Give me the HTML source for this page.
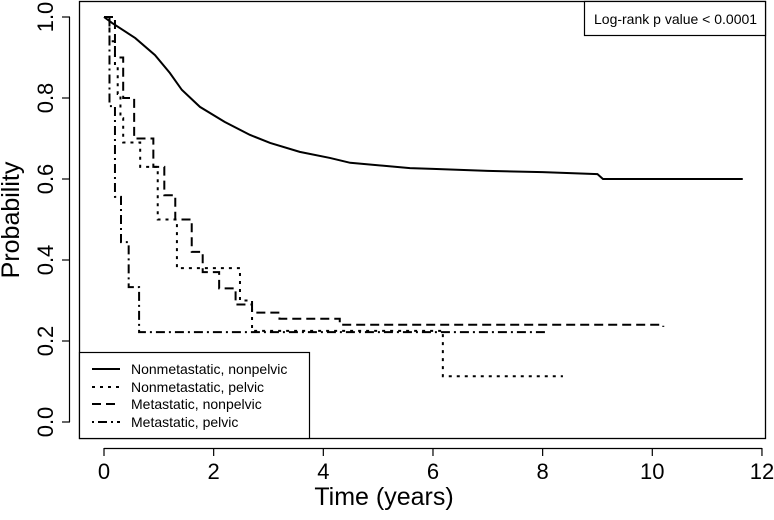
<!DOCTYPE html>
<html><head><meta charset="utf-8"><style>
body{margin:0;background:#fff}
text{font-family:"Liberation Sans",Arial,sans-serif;fill:#000}
.n{font-family:"Liberation Sans Narrow","Liberation Sans",Arial,sans-serif}
</style></head><body>
<svg id="chart" width="774" height="515" xmlns="http://www.w3.org/2000/svg">
<rect x="79.5" y="1.5" width="686" height="437" fill="none" stroke="#000" stroke-width="1.3"/>
<g id="axes"></g>
<g id="curves"></g>
<g>
<rect x="584.5" y="1.5" width="181" height="34" fill="#fff" stroke="#000" stroke-width="1.2"/>
<text x="594" y="24" font-size="14">Log-rank p value &lt; 0.0001</text>
</g>
<g>
<rect x="79.5" y="352.5" width="230" height="86" fill="#fff" stroke="#000" stroke-width="1.2"/>
<line x1="92" y1="369" x2="120" y2="369" stroke="#000" stroke-width="2"/>
<line x1="92" y1="387" x2="120" y2="387" stroke="#000" stroke-width="2" stroke-dasharray="3,5"/>
<line x1="92" y1="404" x2="120" y2="404" stroke="#000" stroke-width="2" stroke-dasharray="9,5"/>
<line x1="92" y1="422" x2="120" y2="422" stroke="#000" stroke-width="2" stroke-dasharray="2,4,9,4"/>
<text x="131" y="374" font-size="14">Nonmetastatic, nonpelvic</text>
<text x="131" y="392" font-size="14">Nonmetastatic, pelvic</text>
<text x="131" y="409" font-size="14">Metastatic, nonpelvic</text>
<text x="131" y="427" font-size="14">Metastatic, pelvic</text>
</g>
<text class="n" x="384" y="505" font-size="25" text-anchor="middle">Time (years)</text>
<text class="n" transform="translate(19,220) rotate(-90)" font-size="25" text-anchor="middle">Probability</text>
</svg>
<script>
const xTicks=[0,2,4,6,8,10,12];
const yTicks=[0.0,0.2,0.4,0.6,0.8,1.0];
const tSolid=[0,0.15,0.57,0.93,1.2,1.42,1.75,2.2,2.66,3.03,3.57,4.12,4.49,5.58,6,7,8,9,9.1,11.65];
const pSolid=[1,0.985,0.948,0.906,0.862,0.82,0.778,0.741,0.709,0.689,0.667,0.652,0.64,0.627,0.625,0.62,0.617,0.612,0.6,0.6];
const tNMP=[0,0.1,0.2,0.25,0.3,0.35,0.66,0.98,1.33,2.48,2.7,6.18,8.37];
const pNMP=[1,0.94,0.88,0.81,0.75,0.69,0.63,0.5,0.38,0.3,0.225,0.113,0.113];
const tMNP=[0,0.2,0.35,0.55,0.9,1.1,1.3,1.6,1.8,2.1,2.4,2.7,3.2,4.3,10.2];
const pMNP=[1,0.9,0.8,0.7,0.63,0.56,0.5,0.42,0.37,0.33,0.29,0.27,0.255,0.24,0.235];
const tMP=[0,0.1,0.2,0.31,0.45,0.64,8.05];
const pMP=[1,0.78,0.556,0.444,0.333,0.222,0.222];
const NS="http://www.w3.org/2000/svg";
const X=t=>104+54.83*t, Y=p=>422-405*p;
const axes=document.getElementById('axes'), curves=document.getElementById('curves');
function el(tag,attrs,parent){const e=document.createElementNS(NS,tag);for(const k in attrs)e.setAttribute(k,attrs[k]);parent.appendChild(e);return e;}
el('line',{x1:X(0),y1:448.5,x2:X(12),y2:448.5,stroke:'#000','stroke-width':1.2},axes);
el('line',{x1:69.5,y1:Y(0),x2:69.5,y2:Y(1),stroke:'#000','stroke-width':1.2},axes);
xTicks.forEach(v=>{
 el('line',{x1:X(v),y1:448,x2:X(v),y2:456,stroke:'#000','stroke-width':1.2},axes);
 const t=el('text',{x:X(v),y:479,'font-size':22,'text-anchor':'middle','class':'n'},axes);t.textContent=v;
 
 
});
yTicks.forEach(v=>{
 el('line',{x1:62,y1:Y(v),x2:70,y2:Y(v),stroke:'#000','stroke-width':1.2},axes);
 const t=el('text',{transform:`translate(53,${Y(v)}) rotate(-90)`,'font-size':22,'text-anchor':'middle','class':'n'},axes);t.textContent=v.toFixed(1);
 
 
});
function step(ts,ps,dash,name){
 let d=`M${X(ts[0])},${Y(ps[0])}`;
 for(let i=1;i<ts.length;i++){d+=` H${X(ts[i])} V${Y(ps[i])}`;}
 const p=el('path',{d:d,fill:'none',stroke:'#000','stroke-width':2,'stroke-dasharray':dash},curves);
 
 
}
function smooth(ts,ps,name){
 const d=ts.map((t,i)=>(i?'L':'M')+X(t)+','+Y(ps[i])).join(' ');
 const p=el('path',{d:d,fill:'none',stroke:'#000','stroke-width':2},curves);
 
 
}
smooth(tSolid,pSolid,'curve-nonmet-nonpelvic');
step(tNMP,pNMP,'3,5','curve-nonmet-pelvic');
step(tMNP,pMNP,'9,5','curve-met-nonpelvic');
step(tMP,pMP,'2,4,9,4','curve-met-pelvic');
</script>
</body></html>
